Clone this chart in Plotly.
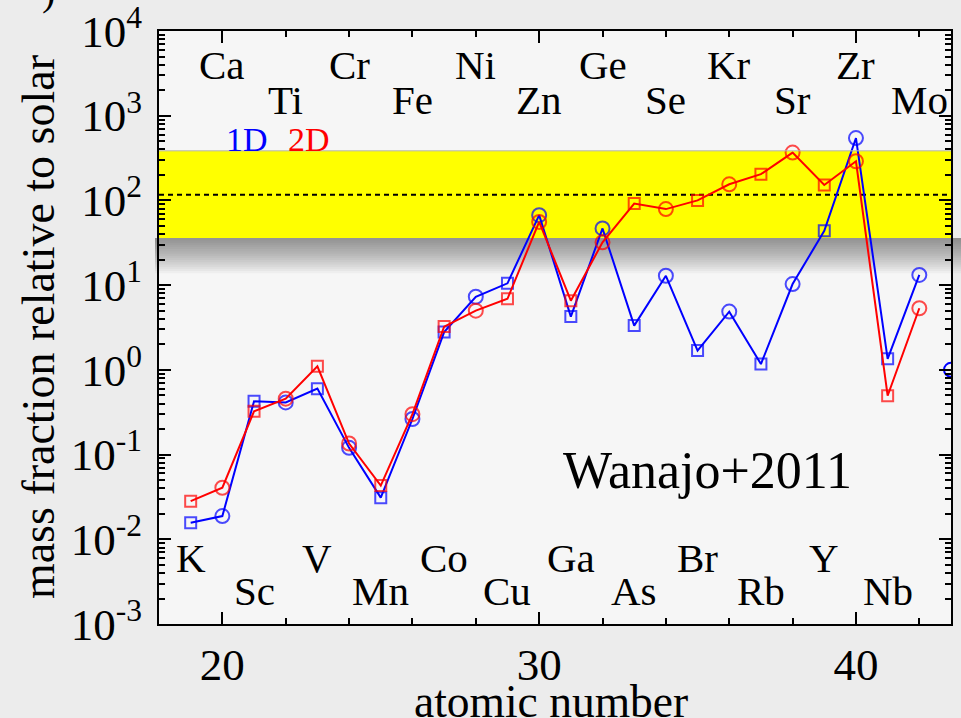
import math
import plotly.graph_objects as go

# ---------------- data ----------------
Z = list(range(19, 43))
elements = ["K", "Ca", "Sc", "Ti", "V", "Cr", "Mn", "Fe", "Co", "Ni", "Cu", "Zn",
            "Ga", "Ge", "As", "Se", "Br", "Kr", "Rb", "Sr", "Y", "Zr", "Nb", "Mo"]
blue_1d = [0.0157, 0.0188, 0.425, 0.413, 0.60, 0.12, 0.031, 0.263, 2.79, 7.3, 10.5, 67,
           4.25, 46.7, 3.33, 12.9, 1.69, 4.87, 1.17, 10.3, 43.8, 545, 1.35, 13.2]
red_2d = [0.0282, 0.0406, 0.324, 0.457, 1.10, 0.135, 0.043, 0.30, 3.24, 5.0, 6.9, 55.8,
          6.56, 32, 92, 79, 100, 155, 204, 367, 152, 290, 0.495, 5.34]
Z_extra = [43]
blue_extra = [1.0]
band_lo, band_hi, band_mid = 36, 385, 117

x_ticks = [20, 30, 40]
y_tickvals = [1e-3, 1e-2, 1e-1, 1e0, 1e1, 1e2, 1e3, 1e4]
y_ticktext = ["10<sup>-3</sup>", "10<sup>-2</sup>", "10<sup>-1</sup>", "10<sup>0</sup>",
              "10<sup>1</sup>", "10<sup>2</sup>", "10<sup>3</sup>", "10<sup>4</sup>"]

FONT = "Liberation Serif"
BLUE = "#0000ff"
RED = "#ff0000"

symbols = ["square-open" if z % 2 else "circle-open" for z in Z]
sizes = [11 if z % 2 else 14 for z in Z]

fig = go.Figure()

# yellow band
fig.add_trace(go.Scatter(x=[18, 43, 43, 18, 18], y=[band_lo, band_lo, band_hi, band_hi, band_lo],
                         fill="toself", fillcolor="#ffff00", mode="lines",
                         line=dict(width=0), hoverinfo="skip", showlegend=False))
# dashed mean line
fig.add_trace(go.Scatter(x=[18, 43], y=[band_mid, band_mid], mode="lines",
                         line=dict(color="black", width=2, dash="5px,4px"),
                         showlegend=False))
# 1D
fig.add_trace(go.Scatter(x=Z, y=blue_1d, mode="lines+markers",
                         line=dict(color=BLUE, width=2),
                         marker=dict(symbol=symbols, size=sizes, color=BLUE,
                                     line=dict(color=BLUE, width=2)),
                         showlegend=False))
fig.add_trace(go.Scatter(x=Z_extra, y=blue_extra, mode="markers",
                         marker=dict(symbol="circle-open", size=14, color=BLUE,
                                     line=dict(color=BLUE, width=2)),
                         showlegend=False))
# 2D
fig.add_trace(go.Scatter(x=Z, y=red_2d, mode="lines+markers",
                         line=dict(color=RED, width=2),
                         marker=dict(symbol=symbols, size=sizes, color=RED,
                                     line=dict(color=RED, width=2)),
                         showlegend=False))

shapes = []
# soft shadow below the band
n = 16
for k in range(1, n + 1):
    shapes.append(dict(type="rect", xref="paper", yref="y", x0=-0.005, x1=1.02,
                       y0=band_lo * 10 ** (-0.026 * k), y1=band_lo,
                       fillcolor="rgba(50,50,50,0.038)", line=dict(width=0), layer="below"))
shapes.append(dict(type="line", xref="x", yref="y", x0=18, x1=43, y0=band_hi, y1=band_hi,
                   line=dict(color="#b5b5b5", width=1)))

annotations = []
rows = {0: 0.943, 2: 0.884, 3: 0.112, 1: 0.055}
for z, el in zip(Z, elements):
    annotations.append(dict(x=z, y=rows[z % 4], xref="x", yref="paper", text=el,
                            showarrow=False, xanchor="center", yanchor="middle",
                            font=dict(family=FONT, size=41, color="black")))
annotations += [
    dict(x=0.111, y=0.817, xref="paper", yref="paper", text="1D", showarrow=False,
         xanchor="center", yanchor="middle", font=dict(family=FONT, size=34, color=BLUE)),
    dict(x=0.19, y=0.817, xref="paper", yref="paper", text="2D", showarrow=False,
         xanchor="center", yanchor="middle", font=dict(family=FONT, size=34, color=RED)),
    dict(x=0.692, y=0.259, xref="paper", yref="paper", text="Wanajo+2011", showarrow=False,
         xanchor="center", yanchor="middle", font=dict(family=FONT, size=52, color="black")),
    dict(x=-0.140, y=1.066, xref="paper", yref="paper", text=")", showarrow=False,
         xanchor="center", yanchor="middle",
         font=dict(family=FONT, size=40, color="black")),
    dict(x=-0.152, y=0.5, xref="paper", yref="paper", text="mass fraction relative to solar",
         showarrow=False, textangle=-90, xanchor="center", yanchor="middle",
         font=dict(family=FONT, size=46, color="black")),
    dict(x=0.495, y=-0.13, xref="paper", yref="paper", text="atomic number",
         showarrow=False, xanchor="center", yanchor="middle",
         font=dict(family=FONT, size=45.5, color="black")),
]

fig.update_layout(
    width=961, height=718,
    margin=dict(l=159, r=10, t=31, b=94),
    paper_bgcolor="#ececec", plot_bgcolor="#f6f6f6",
    font=dict(family=FONT, color="black"),
    shapes=shapes, annotations=annotations,
    showlegend=False,
)
fig.update_xaxes(
    range=[18, 43], tickmode="array", tickvals=x_ticks, automargin=False,
    ticks="inside", ticklen=12, tickwidth=1.5, tickcolor="black",
    minor=dict(ticks="inside", ticklen=6, dtick=2, tick0=0, tickcolor="black", tickwidth=1.5, showgrid=False),
    showline=True, linecolor="black", linewidth=2, mirror="allticks",
    showgrid=False, zeroline=False, ticklabeloverflow="allow",
    tickfont=dict(family=FONT, size=45),
)
fig.update_yaxes(
    type="log", range=[-3, 4], tickmode="array", tickvals=y_tickvals, ticktext=y_ticktext,
    automargin=False, ticklabeloverflow="allow", ticklabelstandoff=6,
    ticks="inside", ticklen=12, tickwidth=1.5, tickcolor="black",
    minor=dict(ticks="inside", ticklen=6, dtick="D1", tickcolor="black", tickwidth=1.5, showgrid=False),
    showline=True, linecolor="black", linewidth=2, mirror="allticks",
    showgrid=False, zeroline=False,
    tickfont=dict(family=FONT, size=45),
)

fig.write_html("out.html")
